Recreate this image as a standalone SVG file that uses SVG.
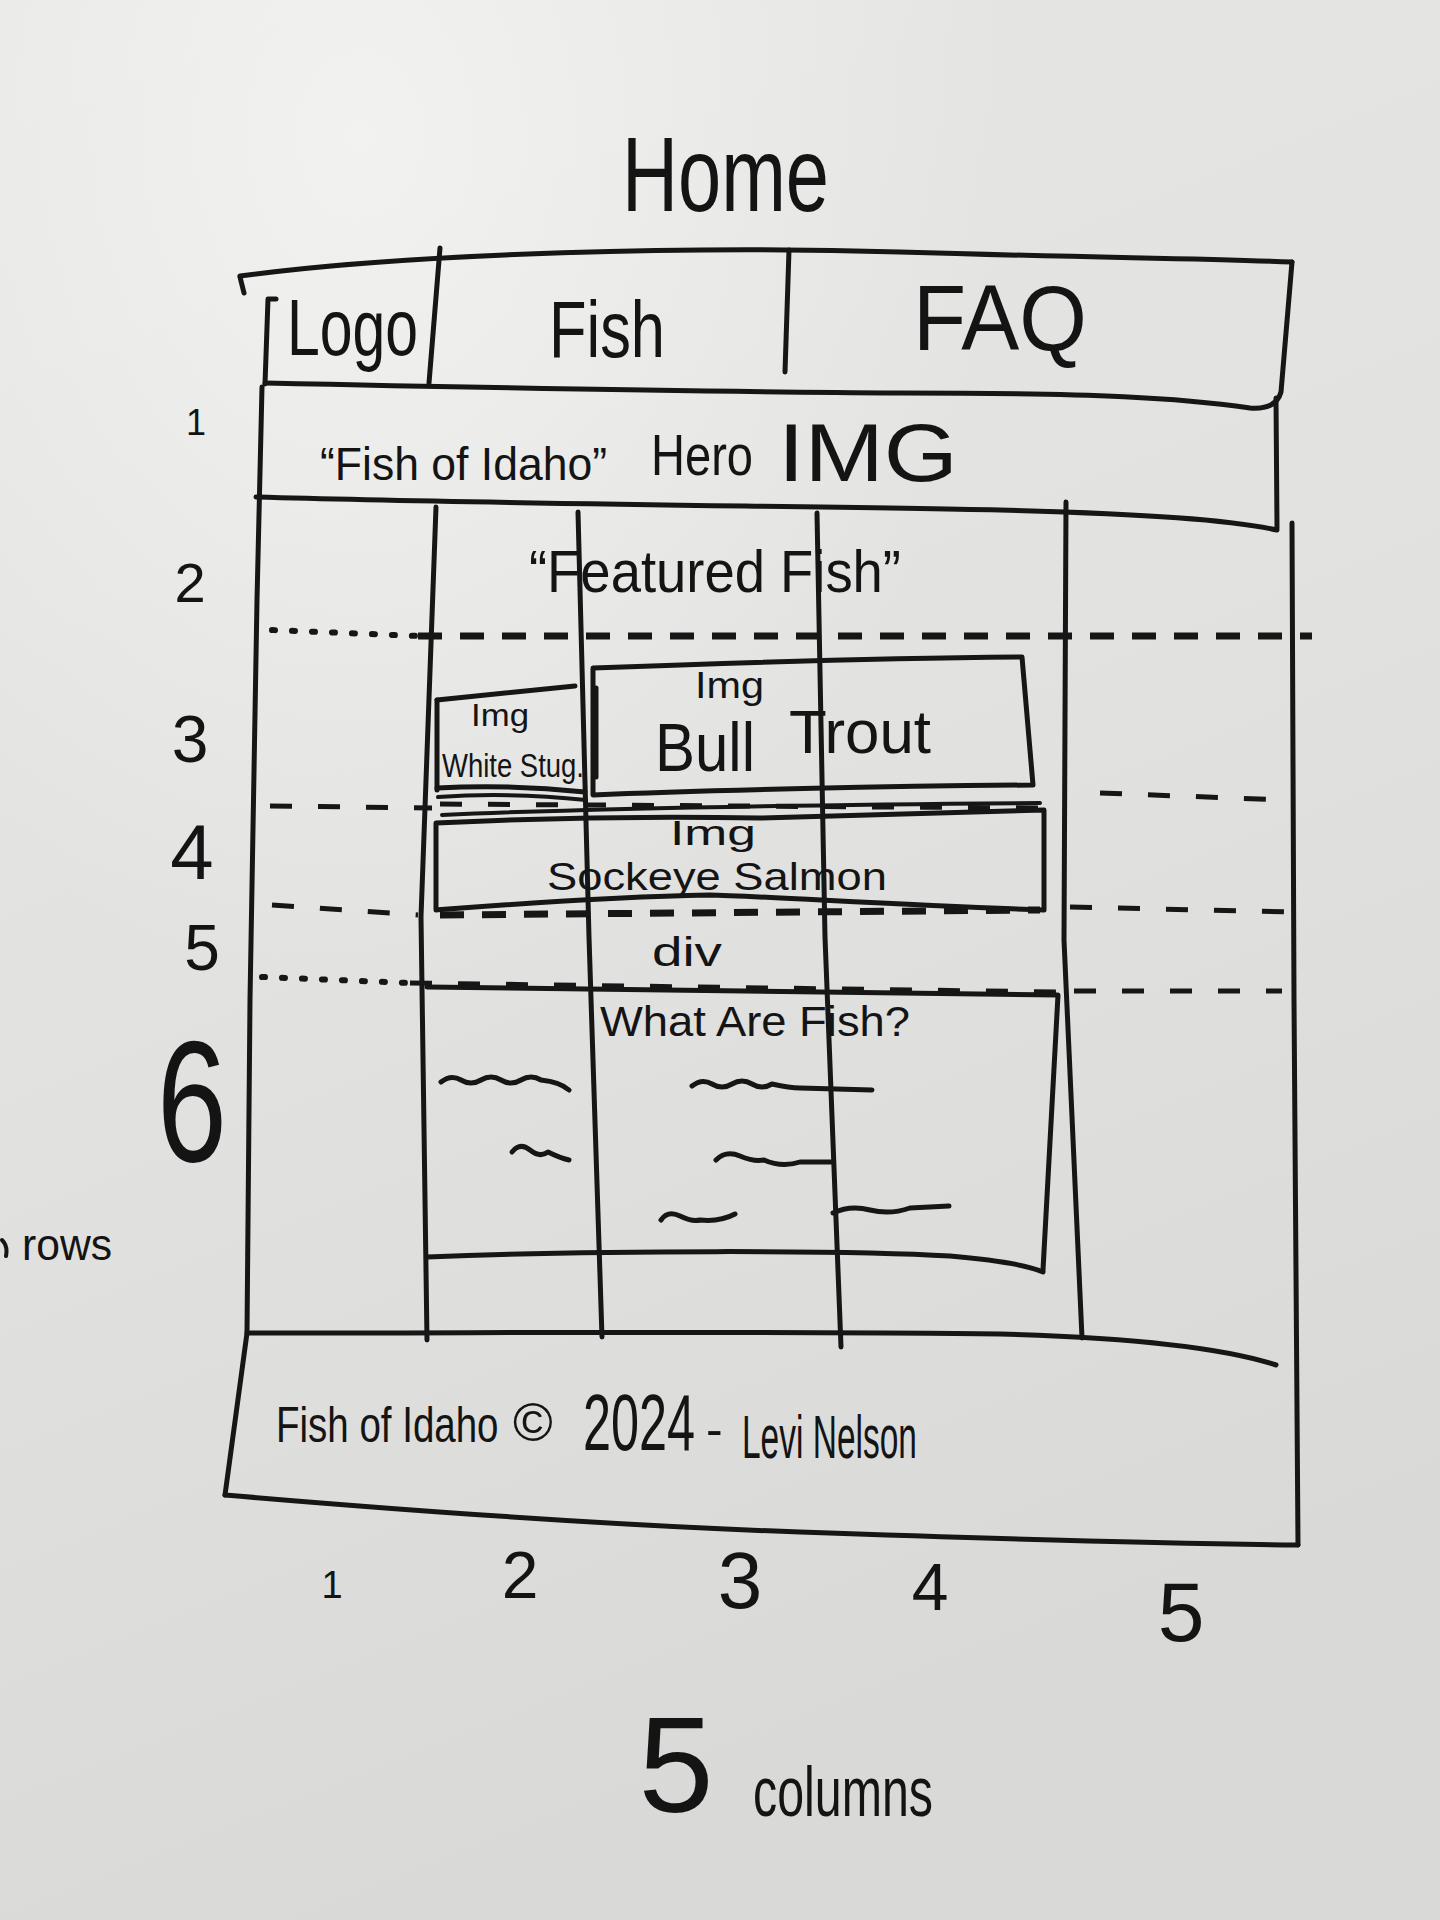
<svg xmlns="http://www.w3.org/2000/svg" width="1440" height="1920" viewBox="0 0 1440 1920">
  <defs>
    <linearGradient id="board" x1="0" y1="0" x2="0.3" y2="1">
      <stop offset="0" stop-color="#e6e6e4"/>
      <stop offset="0.5" stop-color="#e2e2e0"/>
      <stop offset="1" stop-color="#d9d9d7"/>
    </linearGradient>
    <radialGradient id="glare" cx="0.25" cy="0.07" r="0.45">
      <stop offset="0" stop-color="#f4f4f3" stop-opacity="0.85"/>
      <stop offset="1" stop-color="#f4f4f3" stop-opacity="0"/>
    </radialGradient>
    <style>
      .ink { fill: none; stroke: #161616; stroke-width: 5; stroke-linecap: round; stroke-linejoin: round; }
      .thin { stroke-width: 4; }
      .dots { fill: none; stroke: #161616; stroke-width: 6; stroke-linecap: round; stroke-dasharray: 3 17; }
      .dash { fill: none; stroke: #161616; stroke-width: 7; stroke-linecap: butt; stroke-dasharray: 24 18; }
      .dash2 { fill: none; stroke: #161616; stroke-width: 5; stroke-linecap: butt; stroke-dasharray: 22 26; }
      .hw { font-family: "Liberation Sans", "DejaVu Sans", sans-serif; fill: #141414; }
      .mid { text-anchor: middle; }
    </style>
  </defs>

  <!-- whiteboard -->
  <rect width="1440" height="1920" fill="url(#board)"/>
  <rect width="1440" height="1920" fill="url(#glare)"/>

  <!-- page title -->
  <g id="title">
    <text class="hw" x="622" y="211" font-size="105" textLength="207" lengthAdjust="spacingAndGlyphs">Home</text>
  </g>

  <!-- navigation bar -->
  <g id="nav">
    <path class="ink" d="M240,277 L244,293"/>
    <path class="ink" d="M240,276 C420,252 700,246 900,252 S1200,258 1292,262"/>
    <path class="ink" d="M1292,262 L1281,392 Q1276,410 1250,408 C1180,398 1100,393 900,393 C700,392 500,388 265,383"/>
    <path class="ink" d="M276,299 L268,299 L265,384"/>
    <path class="ink" d="M440,248 L429,383"/>
    <path class="ink" d="M789,250 L785,372"/>
    <text class="hw" x="287" y="355" font-size="80" textLength="131" lengthAdjust="spacingAndGlyphs">Logo</text>
    <text class="hw" x="549" y="357" font-size="80" textLength="116" lengthAdjust="spacingAndGlyphs">Fish</text>
    <text class="hw" x="913" y="350" font-size="92" textLength="174" lengthAdjust="spacingAndGlyphs">FAQ</text>
  </g>

  <!-- hero image band -->
  <g id="hero">
    <path class="ink" d="M1276,398 L1277,528"/>
    <path class="ink" d="M256,497 C500,504 800,506 1000,510 C1150,514 1230,520 1277,530"/>
    <text class="hw" x="320" y="480" font-size="46" textLength="287" lengthAdjust="spacingAndGlyphs">“Fish of Idaho”</text>
    <text class="hw" x="651" y="475" font-size="58" textLength="102" lengthAdjust="spacingAndGlyphs">Hero</text>
    <text class="hw" x="778" y="481" font-size="82" textLength="180" lengthAdjust="spacingAndGlyphs">IMG</text>
  </g>

  <!-- grid lines: outer edges, column lines and dashed row lines -->
  <g id="grid-lines">
    <path class="ink" d="M262,387 L257,600 L250,1000 L247,1333 L225,1495"/>
    <path class="ink" d="M1292,523 L1294,1000 L1298,1545"/>
    <path class="ink" d="M436,507 L421,917 L427,1340"/>
    <path class="ink" d="M578,512 L589,937 L602,1337"/>
    <path class="ink" d="M817,513 L825,937 L841,1347"/>
    <path class="ink" d="M1066,502 L1064,940 L1082,1338"/>

    <path class="dots" d="M272,630 L418,636"/>
    <path class="dash" d="M418,636 L1312,636"/>

    <path class="dash2" d="M270,806 L432,808"/>
    <path class="dash2" d="M440,804 L1040,808"/>
    <path class="dash2" d="M1100,793 L1286,800"/>

    <path class="dash2" d="M272,905 L418,915"/>
    <path class="dash" d="M440,915 L1040,910"/>
    <path class="dash2" d="M1070,907 L1290,912"/>

    <path class="dots" d="M262,977 L410,983"/>
    <path class="dash2" d="M410,983 L1056,992"/>
    <path class="dash2" d="M1074,991 L1282,991"/>
  </g>

  <!-- row 2: heading -->
  <g id="featured">
    <text class="hw" x="529" y="592" font-size="60" textLength="372" lengthAdjust="spacingAndGlyphs">“Featured  Fish”</text>
  </g>

  <!-- row 3: white sturgeon card -->
  <g id="white-sturgeon">
    <path class="ink" d="M437,700 L575,686"/>
    <path class="ink" d="M437,700 L437,790"/>
    <path class="ink" d="M437,788 Q510,784 585,792"/>
    <path class="ink thin" d="M438,797 Q510,792 586,800"/>
    <path class="ink" d="M596,688 L596,777"/>
    <text class="hw" x="471" y="726" font-size="32" textLength="58" lengthAdjust="spacingAndGlyphs">Img</text>
    <text class="hw" x="442" y="777" font-size="34" textLength="142" lengthAdjust="spacingAndGlyphs">White Stug.</text>
  </g>

  <!-- row 3: bull trout card -->
  <g id="bull-trout">
    <path class="ink" d="M593,668 C750,662 900,658 1022,657 L1033,785 C900,786 700,790 593,795 Z"/>
    <text class="hw" x="695" y="698" font-size="36" textLength="69" lengthAdjust="spacingAndGlyphs">Img</text>
    <text class="hw" x="655" y="771" font-size="68" textLength="100" lengthAdjust="spacingAndGlyphs">Bull</text>
    <text class="hw" x="789" y="753" font-size="62" textLength="142" lengthAdjust="spacingAndGlyphs">Trout</text>
  </g>

  <!-- row 4: sockeye salmon card -->
  <g id="sockeye-salmon">
    <path class="ink" d="M436,823 Q600,815 760,818 L1044,810 L1044,910 C900,905 760,896 709,895 C600,897 500,905 436,910 Z"/>
    <path class="ink thin" d="M442,815 Q640,806 1040,803"/>
    <text class="hw" x="670" y="845" font-size="35" textLength="86" lengthAdjust="spacingAndGlyphs">Img</text>
    <text class="hw" x="547" y="890" font-size="39" textLength="340" lengthAdjust="spacingAndGlyphs">Sockeye  Salmon</text>
  </g>

  <!-- row 5: div -->
  <g id="div-row">
    <text class="hw" x="652" y="966" font-size="40" textLength="70" lengthAdjust="spacingAndGlyphs">div</text>
  </g>

  <!-- row 6: article block -->
  <g id="what-are-fish">
    <path class="ink" d="M427,987 L1058,995 L1043,1270"/>
    <path class="ink" d="M427,1257 C600,1250 850,1250 950,1256 Q1020,1262 1043,1272"/>
    <text class="hw" x="600" y="1036" font-size="42" textLength="310" lengthAdjust="spacingAndGlyphs">What Are Fish?</text>
    <path class="ink" d="M441,1082 Q451,1074 461,1080 T481,1080 T501,1080 T521,1080 T541,1080 Q560,1082 569,1090"/>
    <path class="ink" d="M692,1086 Q702,1078 712,1084 T732,1084 T752,1084 T772,1084 Q790,1088 800,1088 L872,1090"/>
    <path class="ink" d="M512,1152 Q520,1142 530,1150 T548,1152 Q560,1158 569,1160"/>
    <path class="ink" d="M716,1160 Q726,1150 740,1156 T764,1160 Q782,1168 800,1162 L833,1162"/>
    <path class="ink" d="M661,1220 Q668,1210 680,1216 T700,1220 Q720,1222 735,1214"/>
    <path class="ink" d="M833,1213 Q850,1205 870,1210 T910,1208 L949,1206"/>
  </g>

  <!-- footer: narrow lettering is made by squeezing each piece horizontally -->
  <g id="footer">
    <path class="ink" d="M247,1333 C500,1333 800,1331 1000,1334 C1150,1338 1230,1350 1276,1365"/>
    <path class="ink" d="M225,1495 C400,1510 600,1525 800,1532 C1000,1539 1200,1544 1298,1545"/>
    <text class="hw" font-size="50" transform="translate(276,1442) scale(0.77,1)">Fish of Idaho</text>
    <text class="hw" font-size="54" transform="translate(513,1441)">©</text>
    <text class="hw" font-size="80" transform="translate(583,1450) scale(0.63,1)">2024</text>
    <text class="hw" font-size="50" transform="translate(706,1446)">-</text>
    <text class="hw" font-size="62" transform="translate(742,1458) scale(0.54,1)">Levi Nelson</text>
  </g>

  <!-- row numbers -->
  <g id="row-labels">
    <text class="hw mid" x="196" y="435" font-size="36">1</text>
    <text class="hw mid" x="190" y="602" font-size="56">2</text>
    <text class="hw mid" x="190" y="762" font-size="66">3</text>
    <text class="hw mid" x="192" y="879" font-size="78">4</text>
    <text class="hw mid" x="202" y="970" font-size="64">5</text>
    <text class="hw" x="157" y="1161" font-size="172" textLength="70" lengthAdjust="spacingAndGlyphs">6</text>
    <path class="ink thin" d="M2,1240 Q8,1246 6,1256"/>
    <text class="hw" x="22" y="1260" font-size="44" textLength="90" lengthAdjust="spacingAndGlyphs">rows</text>
  </g>

  <!-- column numbers -->
  <g id="column-labels">
    <text class="hw mid" x="332" y="1598" font-size="38">1</text>
    <text class="hw mid" x="520" y="1598" font-size="66">2</text>
    <text class="hw mid" x="740" y="1608" font-size="80">3</text>
    <text class="hw mid" x="930" y="1610" font-size="66">4</text>
    <text class="hw mid" x="1181" y="1641" font-size="84">5</text>
    <text class="hw mid" x="676" y="1812" font-size="135">5</text>
    <text class="hw" x="753" y="1816" font-size="70" textLength="180" lengthAdjust="spacingAndGlyphs">columns</text>
  </g>
</svg>
